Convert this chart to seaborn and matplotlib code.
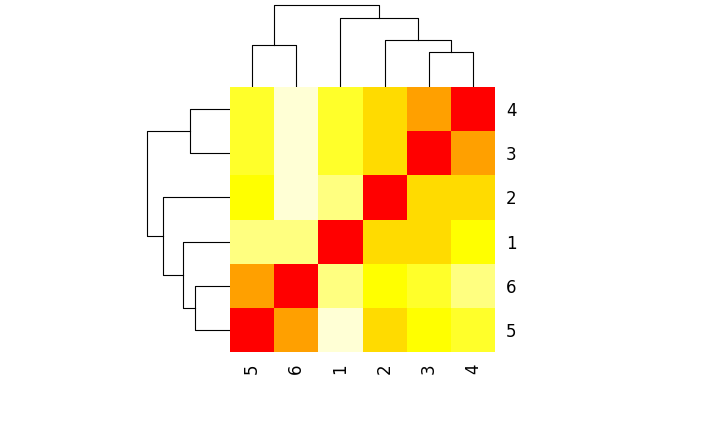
import matplotlib
matplotlib.use("Agg")
import matplotlib.pyplot as plt
import seaborn as sns
import numpy as np
import pandas as pd
from matplotlib.colors import ListedColormap

# column order (left to right) and row order (top to bottom)
col_labels = ["5", "6", "1", "2", "3", "4"]
row_labels = ["4", "3", "2", "1", "6", "5"]

# colour level per cell: 0 = red ... 6 = palest yellow
levels = [
    [4, 6, 4, 2, 1, 0],
    [4, 6, 4, 2, 0, 1],
    [3, 6, 5, 0, 2, 2],
    [5, 5, 0, 2, 2, 3],
    [1, 0, 5, 3, 4, 5],
    [0, 1, 6, 2, 3, 4],
]
palette = ["#FF0000", "#FFA000", "#FFDB00", "#FFFF00", "#FFFF2A", "#FFFF80", "#FFFFD5"]

# merges: (left, right, height); ints refer to leaf positions, "mN" to earlier merges
col_merges = [(4, 5, 35), (3, "m0", 47), (2, "m1", 69), (0, 1, 42), ("m3", "m2", 82)]
row_merges = [(4, 5, 35), (3, "m0", 47), (2, "m1", 67), (0, 1, 40), ("m3", "m2", 83)]

df = pd.DataFrame(levels, index=row_labels, columns=col_labels)

fig = plt.figure(figsize=(7.2, 4.32), dpi=100)
ax = fig.add_axes([230 / 720, 80 / 432, 265 / 720, 265 / 432])
sns.heatmap(df, ax=ax, cmap=ListedColormap(palette), vmin=-0.5, vmax=6.5, cbar=False)
ax.yaxis.tick_right()
ax.tick_params(length=0, labelsize=12, pad=8)
ax.set_yticklabels(row_labels, rotation=0)
ax.set_xticklabels(col_labels, rotation=90)
ax.set_xlabel("")
ax.set_ylabel("")


def draw_dendro(dax, merges, orient):
    pos = {}
    hgt = {}
    def get(n):
        if isinstance(n, int):
            return n + 0.5, 0
        return pos[n], hgt[n]
    for i, (a, b, h) in enumerate(merges):
        xa, ha = get(a)
        xb, hb = get(b)
        xs = [xa, xa, xb, xb]
        ys = [ha, h, h, hb]
        if orient == "top":
            dax.plot(xs, ys, color="black", lw=0.8)
        else:
            # rows: leaf position counted from bottom
            dax.plot(ys, [6 - x for x in xs], color="black", lw=0.8)
        pos["m%d" % i] = (xa + xb) / 2
        hgt["m%d" % i] = h


cax = fig.add_axes([230 / 720, 345 / 432, 265 / 720, 83 / 432])
draw_dendro(cax, col_merges, "top")
cax.set_xlim(0, 6)
cax.set_ylim(0, 83)
cax.axis("off")

rax = fig.add_axes([146 / 720, 80 / 432, 84 / 720, 265 / 432])
draw_dendro(rax, [(a, b, h) for a, b, h in row_merges], "left")
rax.set_ylim(0, 6)
rax.set_xlim(84, 0)
rax.axis("off")

fig.savefig("out.png", dpi=100)
